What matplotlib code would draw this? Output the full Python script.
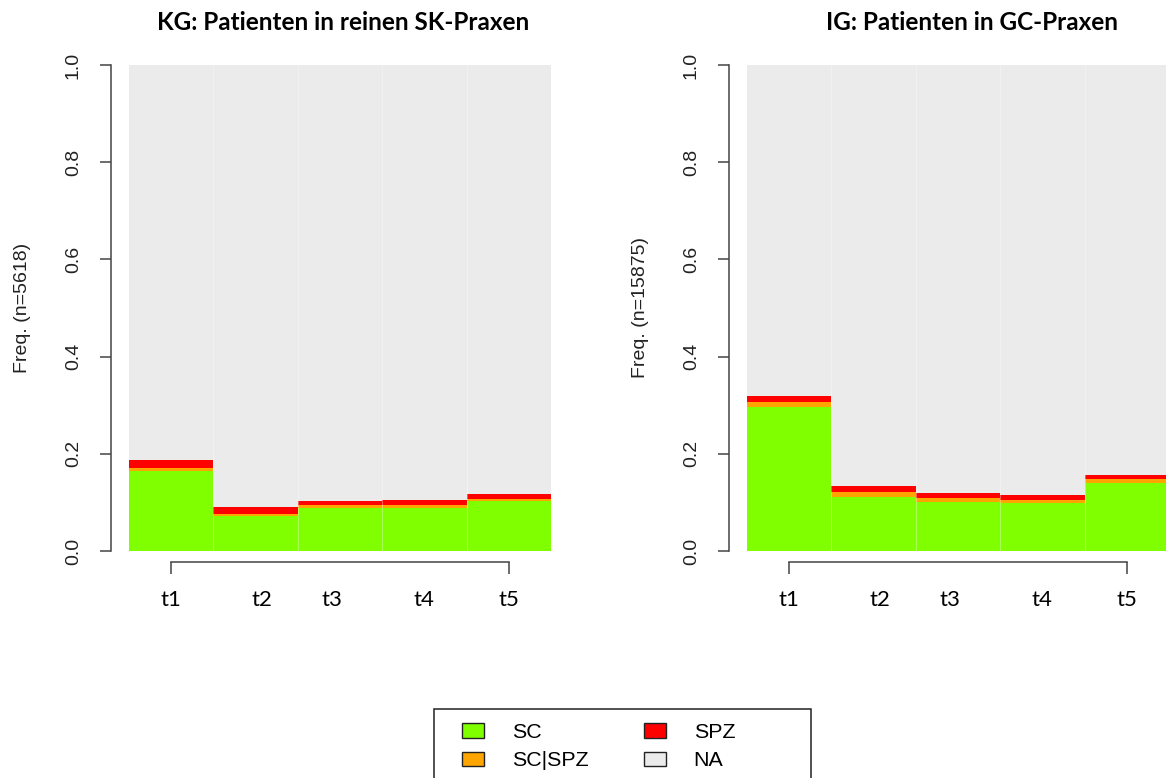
import numpy as np
import matplotlib
matplotlib.use("Agg")
import matplotlib.pyplot as plt
from matplotlib.patches import Patch, Rectangle

# data (share of patients per time point)
times = ["t1", "t2", "t3", "t4", "t5"]
categories = ["SC", "SC|SPZ", "SPZ", "NA"]
colors = ["#7FFF00", "#FFA500", "#FF0000", "#EBEBEB"]

kg_sc = [0.165, 0.072, 0.089, 0.089, 0.102]
kg_scspz = [0.006, 0.005, 0.005, 0.006, 0.005]
kg_spz = [0.016, 0.014, 0.009, 0.009, 0.010]

ig_sc = [0.296, 0.112, 0.101, 0.098, 0.140]
ig_scspz = [0.010, 0.010, 0.008, 0.007, 0.008]
ig_spz = [0.012, 0.012, 0.010, 0.010, 0.008]

titles = ["KG: Patienten in reinen SK-Praxen", "IG: Patienten in GC-Praxen"]
ylabels = ["Freq. (n=5618)", "Freq. (n=15875)"]
# hand-placed time labels are slightly off the bar centres
label_shift = [0.0, 0.08, -0.09, 0.0, 0.0]

W, H = 1166, 778
fig = plt.figure(figsize=(W / 100, H / 100), dpi=100)
arial = "Liberation Sans"
calibri = "Lato"


def spine_plot(ax, sc, scspz, spz, ylab):
    x = np.arange(len(times))
    na = 1 - (np.array(sc) + np.array(scspz) + np.array(spz))
    bottom = np.zeros(len(times))
    for vals, c in zip([sc, scspz, spz, na], colors):
        ax.bar(x, vals, width=1, align="edge", bottom=bottom, color=c, linewidth=0)
        bottom = bottom + np.array(vals)
    ax.vlines(x[1:], 0, 1, color="white", lw=0.8, alpha=0.35)
    ax.set_xlim(0, len(times))
    ax.set_ylim(0, 1)
    for s in ["top", "right"]:
        ax.spines[s].set_visible(False)
    ax.spines["left"].set_position(("outward", 13))
    ax.spines["left"].set_bounds(0, 1)
    ax.spines["bottom"].set_position(("outward", 8))
    ax.spines["bottom"].set_bounds(x[0] + 0.5, x[-1] + 0.5)
    for s in ["left", "bottom"]:
        ax.spines[s].set_color("#444444")
        ax.spines[s].set_linewidth(1.1)
    ax.set_yticks(np.linspace(0, 1, 6))
    ax.set_yticklabels(["%.1f" % v for v in np.linspace(0, 1, 6)],
                       rotation=90, va="center", fontsize=14, family=arial, color="#222222")
    ax.tick_params(axis="y", length=8, width=1.1, color="#444444", pad=13)
    ax.xaxis.remove_overlapping_locs = False
    ax.set_xticks([x[0] + 0.5, x[-1] + 0.5])
    ax.set_xticklabels([])
    ax.tick_params(axis="x", which="major", length=8.5, width=1.1, color="#444444")
    ax.set_xticks(x + 0.5 + np.array(label_shift), minor=True)
    ax.set_xticklabels(times, minor=True, fontsize=16, family=calibri)
    ax.tick_params(axis="x", which="minor", length=0, pad=20)
    ax.set_ylabel(ylab, fontsize=14, family=arial, color="#222222")
    ax.yaxis.label.set_va("center")
    ax.yaxis.set_label_coords(-0.252, 0.5)


axl = fig.add_axes([129 / W, 1 - 551 / H, 422 / W, 486 / H])
axr = fig.add_axes([747 / W, 1 - 551 / H, 422 / W, 486 / H])
spine_plot(axl, kg_sc, kg_scspz, kg_spz, ylabels[0])
spine_plot(axr, ig_sc, ig_scspz, ig_spz, ylabels[1])

fig.text(343 / W, 1 - 23 / H, titles[0], ha="center", va="center",
         fontsize=17.5, fontweight="bold", family=calibri)
fig.text(972 / W, 1 - 23 / H, titles[1], ha="center", va="center",
         fontsize=17.5, fontweight="bold", family=calibri)

# legend box runs past the bottom edge like in the original
fig.add_artist(Rectangle((434 / W, -20 / H), 377 / W, (778 - 709 + 20) / H,
                         transform=fig.transFigure, fill=False, ec="#222222", lw=1.1))
handles = [Patch(facecolor=c, edgecolor="#222222", lw=1) for c in colors]
fig.legend(handles, categories, ncol=2, loc="upper left",
           bbox_to_anchor=(462 / W, 1 - 723 / H), frameon=False,
           borderpad=0, borderaxespad=0, handlelength=1.03, handleheight=0.65,
           handletextpad=1.31, columnspacing=2.57, labelspacing=0.43,
           prop={"family": arial, "size": 15.4})

fig.savefig("out.png", dpi=100)
